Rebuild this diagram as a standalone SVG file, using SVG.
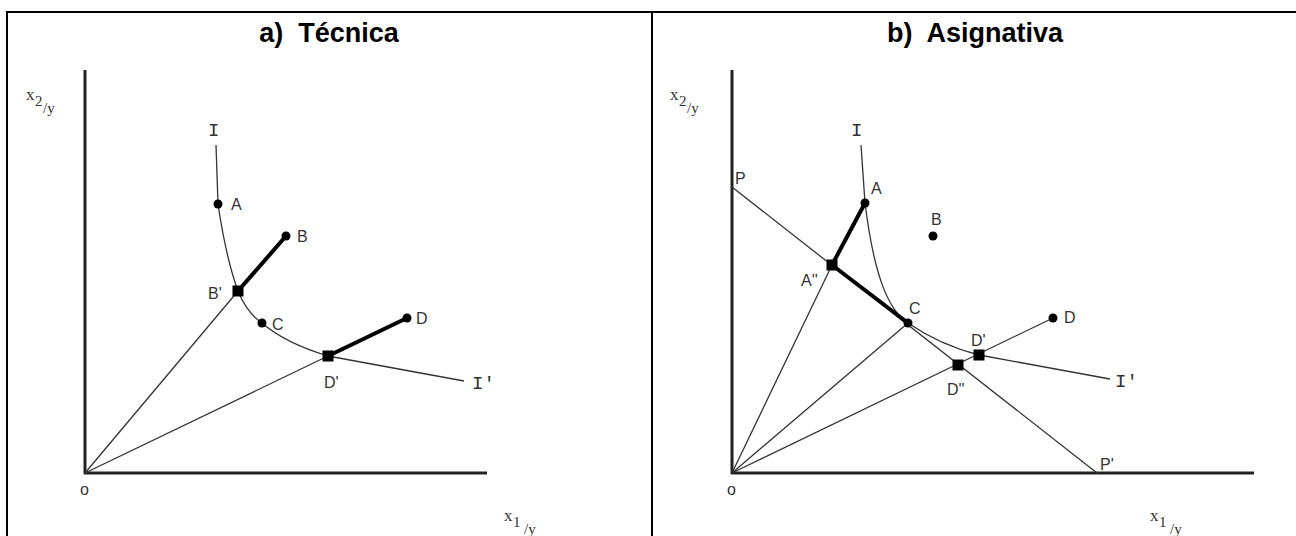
<svg xmlns="http://www.w3.org/2000/svg" width="1296" height="536" viewBox="0 0 1296 536">
<style>
.frame{stroke:#000;stroke-width:2;fill:none}
.axis{stroke:#222;stroke-width:3;fill:none}
.thin{stroke:#333;stroke-width:1.3;fill:none}
.thick{stroke:#000;stroke-width:4;fill:none;stroke-linecap:round}
.dot{fill:#000}
.sq{fill:#000}
.title{font-family:"Liberation Sans",Arial,sans-serif;font-weight:bold;font-size:27px;fill:#000;text-anchor:middle;white-space:pre}
.lbl{font-family:"Liberation Sans",Arial,sans-serif;font-size:16px;fill:#333}
.ser{font-family:"Liberation Serif","Times New Roman",serif;fill:#333}
.mono{font-family:"Liberation Mono","Courier New",monospace;fill:#333}
</style>
<rect width="1296" height="536" fill="#fff"/>
<g id="frame">
<line class="frame" x1="6" y1="12" x2="1296" y2="12"/>
<line class="frame" x1="7" y1="12" x2="7" y2="536"/>
<line class="frame" x1="652" y1="12" x2="652" y2="536"/>
</g>
<text class="title" x="329" y="42" xml:space="preserve">a)  Técnica</text>
<text class="title" x="975" y="42" xml:space="preserve">b)  Asignativa</text>

<!-- Panel a -->
<g id="axes-a">
<line class="axis" x1="85" y1="70" x2="85" y2="474"/>
<line class="axis" x1="84" y1="473" x2="487" y2="473"/>
<text class="ser" x="26" y="100" font-size="17">x</text>
<text class="ser" x="35" y="106" font-size="15">2</text>
<text class="ser" x="43" y="113" font-size="15">/y</text>
<text class="lbl" x="80" y="495" font-size="14">o</text>
<text class="ser" x="504" y="521" font-size="17">x</text>
<text class="ser" x="513" y="527" font-size="15">1</text>
<text class="ser" x="524" y="534" font-size="15">/y</text>
</g>
<g id="connectors-a">
<path class="thin" d="M216,145 L218,204 Q226,258 238,291 Q247,313 262,323 Q285,343 328,356 L464,381"/>
<line class="thin" x1="85" y1="473" x2="238" y2="291"/>
<line class="thin" x1="85" y1="473" x2="328" y2="356"/>
<line class="thick" x1="238" y1="291" x2="286" y2="236"/>
<line class="thick" x1="328" y1="356" x2="407" y2="318"/>
</g>
<g id="node-I-a"><text class="mono" x="208" y="136" font-size="19">I</text></g>
<g id="node-Ip-a"><text class="mono" x="472" y="389" font-size="19">I'</text></g>
<g id="node-A-a"><circle class="dot" cx="218" cy="204" r="4.5"/><text class="lbl" x="231" y="210">A</text></g>
<g id="node-B-a"><circle class="dot" cx="286" cy="236" r="4.5"/><text class="lbl" x="297" y="242">B</text></g>
<g id="node-Bp-a"><rect class="sq" x="232.5" y="285.5" width="11" height="11"/><text class="lbl" x="208" y="299">B'</text></g>
<g id="node-C-a"><circle class="dot" cx="262" cy="323" r="4.5"/><text class="lbl" x="272" y="330">C</text></g>
<g id="node-D-a"><circle class="dot" cx="407" cy="318" r="4.5"/><text class="lbl" x="416" y="324">D</text></g>
<g id="node-Dp-a"><rect class="sq" x="322.5" y="350.5" width="11" height="11"/><text class="lbl" x="324" y="388">D'</text></g>

<!-- Panel b -->
<g id="axes-b">
<line class="axis" x1="732" y1="70" x2="732" y2="474"/>
<line class="axis" x1="731" y1="473" x2="1254" y2="473"/>
<text class="ser" x="670" y="100" font-size="17">x</text>
<text class="ser" x="679" y="106" font-size="15">2</text>
<text class="ser" x="687" y="113" font-size="15">/y</text>
<text class="lbl" x="727" y="495" font-size="14">o</text>
<text class="ser" x="1150" y="521" font-size="17">x</text>
<text class="ser" x="1159" y="527" font-size="15">1</text>
<text class="ser" x="1170" y="534" font-size="15">/y</text>
</g>
<g id="connectors-b">
<line class="thin" x1="732" y1="187" x2="1097" y2="473"/>
<path class="thin" d="M861,145 L865,203 C874,275 888,310 908,323 Q940,345 979,355 L1110,379"/>
<line class="thin" x1="732" y1="473" x2="832" y2="265"/>
<line class="thin" x1="732" y1="473" x2="908" y2="323"/>
<line class="thin" x1="732" y1="473" x2="1053" y2="318"/>
<line class="thick" x1="865" y1="203" x2="832" y2="265"/>
<line class="thick" x1="832" y1="265" x2="908" y2="323"/>
</g>
<g id="node-P"><text class="lbl" x="735" y="184">P</text></g>
<g id="node-Pp"><text class="lbl" x="1100" y="470">P'</text></g>
<g id="node-I-b"><text class="mono" x="851" y="136" font-size="19">I</text></g>
<g id="node-Ip-b"><text class="mono" x="1115" y="387" font-size="19">I'</text></g>
<g id="node-A-b"><circle class="dot" cx="865" cy="203" r="4.5"/><text class="lbl" x="871" y="194">A</text></g>
<g id="node-B-b"><circle class="dot" cx="933" cy="236" r="4.5"/><text class="lbl" x="931" y="225">B</text></g>
<g id="node-App"><rect class="sq" x="826.5" y="259.5" width="11" height="11"/><text class="lbl" x="801" y="286">A''</text></g>
<g id="node-C-b"><circle class="dot" cx="908" cy="323" r="4.5"/><text class="lbl" x="909" y="314">C</text></g>
<g id="node-D-b"><circle class="dot" cx="1053" cy="318" r="4.5"/><text class="lbl" x="1064" y="323">D</text></g>
<g id="node-Dp-b"><rect class="sq" x="973.5" y="349.5" width="11" height="11"/><text class="lbl" x="971" y="346">D'</text></g>
<g id="node-Dpp-b"><rect class="sq" x="952.5" y="359.5" width="11" height="11"/><text class="lbl" x="947" y="395">D''</text></g>
</svg>
